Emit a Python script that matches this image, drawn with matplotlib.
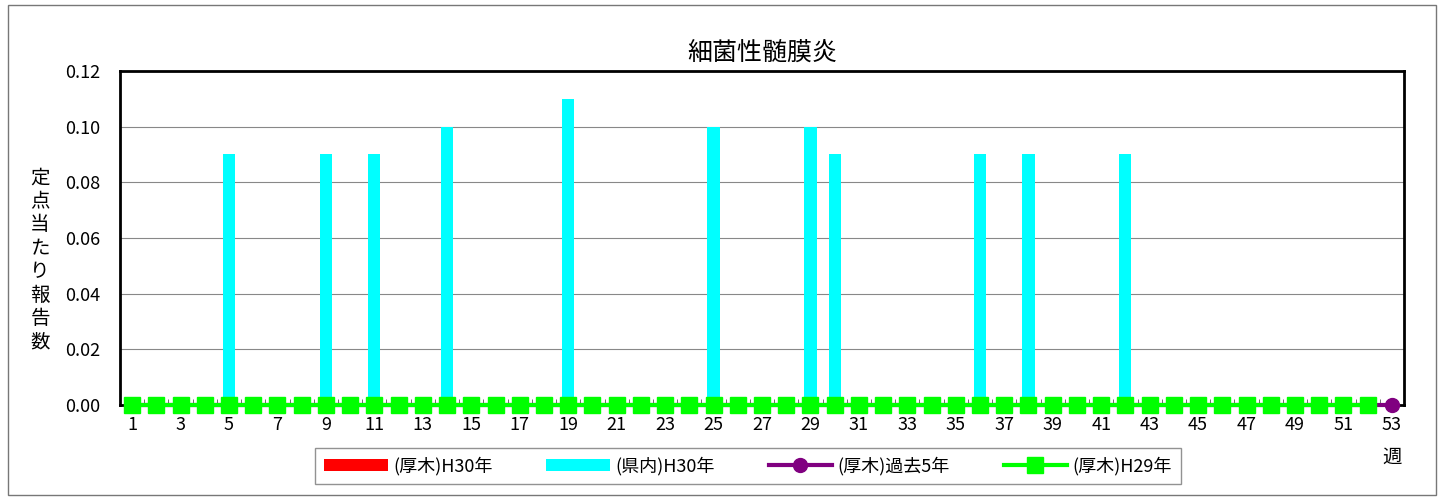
import matplotlib
matplotlib.use("Agg")
import matplotlib.pyplot as plt
import numpy as np

plt.rcParams['font.family'] = ['Noto Sans CJK JP', 'DejaVu Sans']

weeks = list(range(1, 54))
# (厚木)H30年 - all zero
atsugi_h30 = [0.0] * 53
# (県内)H30年
kennai_h30 = [0.0] * 53
for w, v in [(5, 0.09), (9, 0.09), (11, 0.09), (14, 0.10), (19, 0.11), (25, 0.10),
             (29, 0.10), (30, 0.09), (36, 0.09), (38, 0.09), (42, 0.09)]:
    kennai_h30[w - 1] = v
# (厚木)過去5年
past5 = [0.0] * 53
# (厚木)H29年 (weeks 1-52)
atsugi_h29 = [0.0] * 52

fig = plt.figure(figsize=(14.44, 5.0), dpi=100)
ax = fig.add_axes([120 / 1444, 95 / 500, 1284 / 1444, 334 / 500])

x = np.array(weeks)
h1 = ax.bar(x, atsugi_h30, width=0.5, color='#ff0000', label='(厚木)H30年', zorder=2)
h2 = ax.bar(x, kennai_h30, width=0.5, color='#00ffff', label='(県内)H30年', zorder=2)
h3, = ax.plot(x, past5, color='#800080', lw=3, marker='o', ms=10, label='(厚木)過去5年',
              zorder=5, clip_on=False)
h4, = ax.plot(x[:52], atsugi_h29, color='#00ff00', lw=3, marker='s', ms=11, label='(厚木)H29年',
              zorder=6, clip_on=False)

ax.set_xlim(0.5, 53.5)
ax.set_ylim(0, 0.12)
ax.set_yticks(np.arange(0, 0.121, 0.02))
ax.set_yticklabels([f'{v:.2f}' for v in np.arange(0, 0.121, 0.02)], fontsize=13)
ax.set_xticks(range(1, 54, 2))
ax.set_xticklabels([str(w) for w in range(1, 54, 2)], fontsize=13)
ax.tick_params(axis='x', length=0, pad=8)
ax.tick_params(axis='y', length=0, pad=14)
ax.set_xticks(np.arange(1.5, 53, 1), minor=True)
ax.tick_params(axis='x', which='minor', length=4, direction='in', color='#555555')
ax.grid(axis='y', color='#888888', lw=0.8, zorder=0)
for s in ax.spines.values():
    s.set_linewidth(2)
    s.set_color('black')

ax.set_title('細菌性髄膜炎', fontsize=18, pad=8)
fig.text(40 / 1444, 240 / 500, '\n'.join('定点当たり報告数'), fontsize=14,
         ha='center', va='center', linespacing=1.15)
fig.text(1392 / 1444, 43 / 500, '週', fontsize=14, ha='center', va='center')

leg = fig.legend([h1, h2, h3, h4], ['(厚木)H30年', '(県内)H30年', '(厚木)過去5年', '(厚木)H29年'],
                 loc='center', bbox_to_anchor=(748 / 1444, 34 / 500), ncol=4,
                 fontsize=13, frameon=True, fancybox=False, edgecolor='#777777',
                 handlelength=3.5, handletextpad=0.3, columnspacing=3.0, borderpad=0.5)
leg.get_frame().set_linewidth(1)

border = plt.Rectangle((8 / 1444, 5 / 500), 1428 / 1444, 490 / 500, transform=fig.transFigure,
                       fill=False, edgecolor='#777777', lw=1)
fig.patches.append(border)

fig.savefig('out.png', dpi=100)
